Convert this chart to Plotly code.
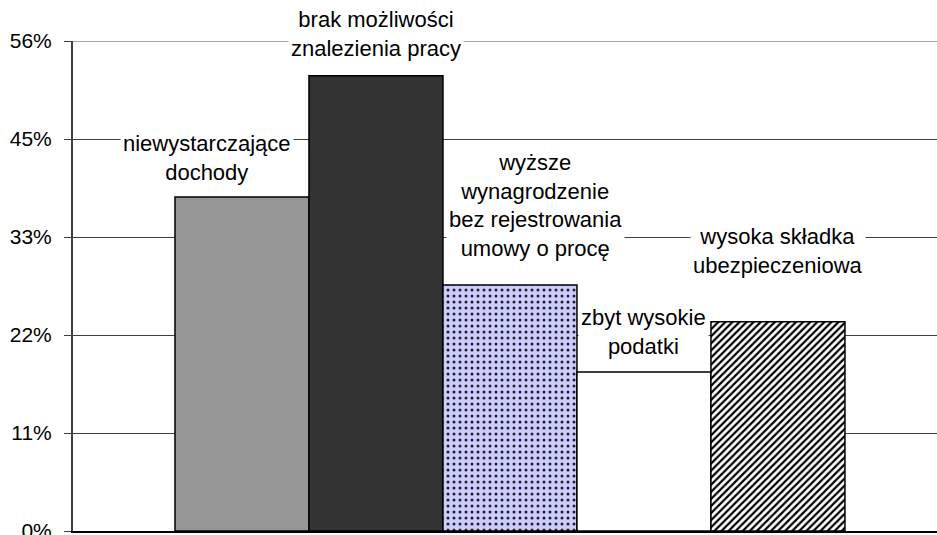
import plotly.graph_objects as go

# ---- data ----
categories = [
    "niewystarczające<br>dochody",
    "brak możliwości<br>znalezienia pracy",
    "wyższe<br>wynagrodzenie<br>bez rejestrowania<br>umowy o procę",
    "zbyt wysokie<br>podatki",
    "wysoka składka<br>ubezpieczeniowa",
]
values = [38.0, 51.8, 28.0, 18.1, 23.8]
tick_values = [0, 11.15, 22.3, 33.45, 44.6, 55.75]
tick_labels = ["0%", "11%", "22%", "33%", "45%", "56%"]

# ---- styles ----
fill_colors = ["#969696", "#333333", "#ccccff", "#ffffff", "#ffffff"]
pattern_shapes = ["", "", ".", "", "/"]
pattern_fg = ["#000", "#000", "#222", "#000", "#000"]
pattern_size = [8, 8, 6, 8, 5]
pattern_solidity = [0.3, 0.3, 0.2, 0.3, 0.45]
# label offsets in pixels (xshift, yshift) relative to the bar top centre
label_shift = [(-35, 9), (0, 12), (26, 21), (0, 10), (0, 41)]

FONT = "Liberation Sans, Arial, sans-serif"

fig = go.Figure()
for i, (cat, val) in enumerate(zip(categories, values)):
    fig.add_trace(go.Bar(
        x=[i], y=[val], width=1,
        marker=dict(
            color=fill_colors[i],
            line=dict(color="#000000", width=1.5),
            pattern=dict(shape=pattern_shapes[i], fgcolor=pattern_fg[i],
                         bgcolor=fill_colors[i], size=pattern_size[i],
                         solidity=pattern_solidity[i], fillmode="replace"),
        ),
        showlegend=False, hoverinfo="skip",
    ))
    fig.add_annotation(
        x=i, y=val, text=cat, showarrow=False,
        xanchor="center", yanchor="bottom",
        xshift=label_shift[i][0], yshift=label_shift[i][1],
        bgcolor="#ffffff", borderpad=2,
        font=dict(family=FONT, size=22, color="#000000"),
    )

# lighter top gridline as in the reference
fig.add_shape(type="line", xref="paper", yref="y", x0=0, x1=1,
              y0=tick_values[-1], y1=tick_values[-1],
              line=dict(color="#888888", width=1.5), layer="below")

fig.update_layout(
    width=937, height=535,
    margin=dict(l=73, r=0, t=41, b=4),
    paper_bgcolor="#ffffff", plot_bgcolor="#ffffff",
    barmode="overlay",
    font=dict(family=FONT, size=21, color="#000000"),
    xaxis=dict(range=[-1.261, 5.187], showticklabels=False, showgrid=False,
               zeroline=False, showline=True, linecolor="#000000", linewidth=2,
               ticks=""),
    yaxis=dict(range=[0, 55.75], tickvals=tick_values, ticktext=tick_labels,
               showgrid=True, gridcolor="#404040", gridwidth=1,
               zeroline=False, showline=True, linecolor="#404040", linewidth=2,
               ticks="outside", ticklen=7, tickcolor="#404040", tickwidth=1,
               ticklabelstandoff=8, automargin=False, ticklabeloverflow="allow",
               tickfont=dict(family=FONT, size=21, color="#000000")),
)

fig.write_html("out.html", config={"displayModeBar": False},
               post_script="document.body.style.margin='0';document.body.style.overflow='hidden';")
